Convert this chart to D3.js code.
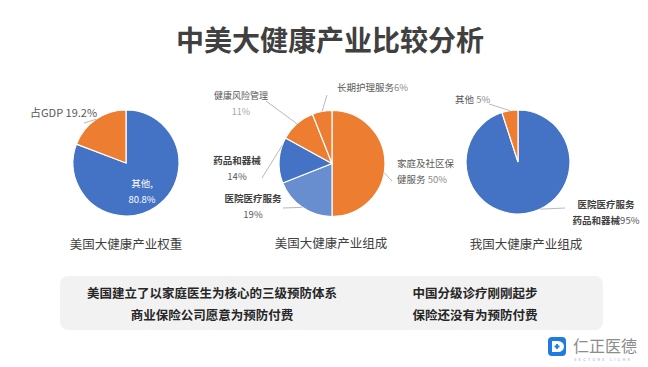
<!DOCTYPE html>
<html>
<head>
<meta charset="utf-8">
<script src="https://cdn.jsdelivr.net/npm/d3@7"></script>
<style>
  body { margin: 0; background: #fff; }
  svg { display: block; font-family: "Noto Sans CJK SC", "Noto Sans", sans-serif; }
</style>
</head>
<body>
<svg id="chart" width="648" height="367"></svg>
<script>
// ---- data ----
const title = "中美大健康产业比较分析"

const usWeightNames = ["其他", "占GDP"]
const usWeightValues = [80.8, 19.2]

const usCompNames = ["家庭及社区保健服务", "医院医疗服务", "药品和器械", "健康风险管理", "长期护理服务"]
const usCompValues = [50, 19, 14, 11, 6]

const cnCompNames = ["医院医疗服务 药品和器械", "其他"]
const cnCompValues = [95, 5]

const subtitles = ["美国大健康产业权重", "美国大健康产业组成", "我国大健康产业组成"]

const noteLeft = ["美国建立了以家庭医生为核心的三级预防体系", "商业保险公司愿意为预防付费"]
const noteRight = ["中国分级诊疗刚刚起步", "保险还没有为预防付费"]

// ---- styling ----
const blue = "#4472c4", lightBlue = "#698ed0", orange = "#ed7d31"
const lineColor = "#a6a6a6"

const svg = d3.select("#chart")

svg.append("text")
    .attr("x", 330).attr("y", 51)
    .attr("text-anchor", "middle")
    .attr("font-size", 28).attr("font-weight", "bold")
    .attr("fill", "#404040")
    .text(title)

// label layout per pie: lines of [text, bold, color], position, leader end
const pies = [
    {
        cx: 126, cy: 163, r: 53,
        names: usWeightNames, values: usWeightValues,
        colors: [blue, orange],
        labels: [
            { x: 142, y: 187, anchor: "middle", size: 9.5, lines: [[["其他,", false, "#fff"]], [["80.8%", false, "#fff"]]] },
            { x: 30, y: 117, anchor: "start", size: 11, lines: [[["占GDP 19.2%", false, "#595959"]]], to: [84, 123] }
        ],
        sub: { x: 126, y: 249 }
    },
    {
        cx: 332, cy: 163.5, r: 53,
        names: usCompNames, values: usCompValues,
        colors: [orange, lightBlue, blue, orange, orange],
        labels: [
            { x: 397, y: 167, anchor: "start", size: 9.5, lines: [[["家庭及社区保", false, "#595959"]], [["健服务 ", false, "#595959"], ["50%", false, "#8c8c8c"]]], to: [392, 181], a: 100 },
            { x: 253, y: 202, anchor: "middle", size: 9.5, lines: [[["医院医疗服务", true, "#404040"]], [["19%", false, "#595959"]]], to: [283, 208] },
            { x: 237, y: 164, anchor: "middle", size: 9.5, lines: [[["药品和器械", true, "#404040"]], [["14%", false, "#595959"]]], to: [262, 178], a: 290 },
            { x: 241, y: 99, anchor: "middle", size: 9, lines: [[["健康风险管理", false, "#595959"]], [["11%", false, "#a6a6a6"]]], to: [266, 101] },
            { x: 337, y: 91, anchor: "start", size: 9.5, lines: [[["长期护理服务", false, "#595959"], ["6%", false, "#8c8c8c"]]], to: [327, 95] }
        ],
        sub: { x: 331, y: 248 }
    },
    {
        cx: 518, cy: 162, r: 52,
        names: cnCompNames, values: cnCompValues,
        colors: [blue, orange],
        labels: [
            { x: 606, y: 208, anchor: "middle", size: 9.5, lines: [[["医院医疗服务", true, "#404040"]], [["药品和器械", true, "#404040"], ["95%", false, "#595959"]]], to: [565, 208], a: 155 },
            { x: 455, y: 103, anchor: "start", size: 9.5, lines: [[["其他 ", false, "#595959"], ["5%", false, "#8c8c8c"]]], to: [489, 104] }
        ],
        sub: { x: 526, y: 249 }
    }
]

const pie = d3.pie().sort(null).value(d => d.value)

pies.forEach((p, i) => {
    const data = p.names.map((n, j) => ({ name: n, value: p.values[j] }))
    const arcs = pie(data)
    const arc = d3.arc().innerRadius(0).outerRadius(p.r)
    const g = svg.append("g").attr("transform", "translate(" + p.cx + "," + p.cy + ")")

    g.selectAll("path")
        .data(arcs)
        .join("path")
        .attr("d", arc)
        .attr("fill", (d, j) => p.colors[j])
        .attr("stroke", "#fff")
        .attr("stroke-width", 1.2)

    arcs.forEach((d, j) => {
        const lab = p.labels[j]
        if (!lab) return
        if (lab.to) {
            const ang = lab.a != null ? lab.a * Math.PI / 180 : (d.startAngle + d.endAngle) / 2
            const sx = p.cx + Math.sin(ang) * p.r, sy = p.cy - Math.cos(ang) * p.r
            svg.append("line")
                .attr("x1", sx).attr("y1", sy)
                .attr("x2", lab.to[0]).attr("y2", lab.to[1])
                .attr("stroke", lineColor).attr("stroke-width", 0.8)
        }
        const t = svg.append("text")
            .attr("text-anchor", lab.anchor)
            .attr("font-size", lab.size)
        lab.lines.forEach((line, k) => {
            line.forEach((seg, m) => {
                const ts = t.append("tspan")
                    .attr("font-weight", seg[1] ? "bold" : "normal")
                    .attr("fill", seg[2])
                    .text(seg[0])
                if (m === 0) ts.attr("x", lab.x).attr("y", lab.y + k * 16)
            })
        })
    })

    svg.append("text")
        .attr("x", p.sub.x).attr("y", p.sub.y)
        .attr("text-anchor", "middle")
        .attr("font-size", 12.5)
        .attr("fill", "#404040")
        .text(subtitles[i])
})

// ---- summary box ----
svg.append("rect")
    .attr("x", 60).attr("y", 276)
    .attr("width", 543).attr("height", 54)
    .attr("rx", 8)
    .attr("fill", "#f2f2f2")

const noteCols = [{ x: 212, lines: noteLeft }, { x: 475, lines: noteRight }]
noteCols.forEach(c => {
    c.lines.forEach((s, k) => {
        svg.append("text")
            .attr("x", c.x).attr("y", 298 + k * 22)
            .attr("text-anchor", "middle")
            .attr("font-size", 12.5).attr("font-weight", "bold")
            .attr("fill", "#262626")
            .text(s)
    })
})

// ---- logo ----
const logo = svg.append("g").attr("transform", "translate(548,337)")
logo.append("rect").attr("width", 18).attr("height", 19).attr("rx", 4).attr("fill", "#1e7be0")
logo.append("path")
    .attr("d", "M4,4 h6 a6,5.5 0 0 1 0,11 h-6 z")
    .attr("fill", "#fff")
logo.append("path")
    .attr("d", "M9,7 v5 M6.5,9.5 h5")
    .attr("stroke", "#1e7be0").attr("stroke-width", 1.8)
svg.append("text")
    .attr("x", 573).attr("y", 352)
    .attr("font-size", 16)
    .attr("fill", "#8c8c8c")
    .text("仁正医德")
svg.append("text")
    .attr("x", 574).attr("y", 361)
    .attr("font-size", 4)
    .attr("letter-spacing", 2.2)
    .attr("fill", "#9aa8c0")
    .text("SECTURE LICHA")
</script>
</body>
</html>
